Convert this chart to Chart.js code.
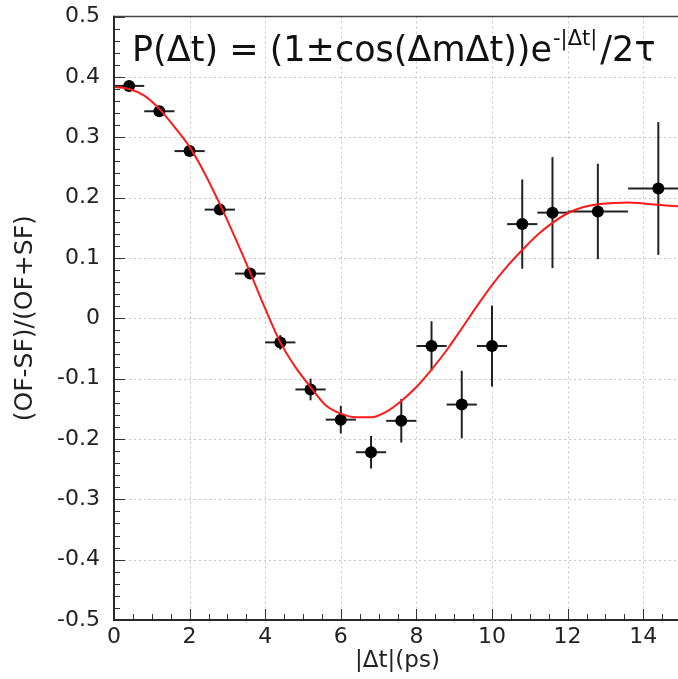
<!DOCTYPE html>
<html>
<head>
<meta charset="utf-8">
<script src="https://cdn.jsdelivr.net/npm/chart.js@4/dist/chart.umd.min.js"></script>
<style>
  html, body { margin: 0; padding: 0; background: #ffffff; overflow: hidden; }
  #wrap { position: relative; width: 700px; height: 679px; }
</style>
</head>
<body>
<div id="wrap"><canvas id="c" width="700" height="679"></canvas></div>
<script>
// ---- data ----
const binCenters    = [0.4, 1.2, 2.0, 2.8, 3.6, 4.4, 5.2, 6.0, 6.8, 7.6, 8.4, 9.2, 10.0, 10.8, 11.6, 12.8, 14.4];
const binHalfWidths = [0.4, 0.4, 0.4, 0.4, 0.4, 0.4, 0.4, 0.4, 0.4, 0.4, 0.4, 0.4, 0.4, 0.4, 0.4, 0.8, 0.8];
const asymmetry     = [0.385, 0.343, 0.277, 0.180, 0.074, -0.040, -0.118, -0.168, -0.222, -0.170, -0.046, -0.143, -0.046, 0.156, 0.175, 0.177, 0.215];
const asymErrors    = [0.004, 0.005, 0.006, 0.007, 0.009, 0.012, 0.018, 0.023, 0.027, 0.036, 0.041, 0.056, 0.067, 0.074, 0.092, 0.079, 0.110];

const fitT = [0, 0.4, 0.8, 1.2, 1.6, 2.0, 2.4, 2.8, 3.2, 3.6, 4.0, 4.4, 4.8, 5.2, 5.6, 6.0, 6.4, 6.8, 7.2, 7.6,
              8.0, 8.4, 8.8, 9.2, 9.6, 10.0, 10.4, 10.8, 11.2, 11.6, 12.0, 12.4, 12.8, 13.2, 13.6, 14.0, 14.4, 14.8, 15.0];
const fitV = [0.383, 0.380, 0.369, 0.347, 0.317, 0.284, 0.240, 0.189, 0.134, 0.076, 0.016, -0.040, -0.081, -0.114, -0.144, -0.158, -0.164, -0.164, -0.155, -0.137,
              -0.114, -0.085, -0.053, -0.017, 0.020, 0.055, 0.086, 0.113, 0.138, 0.158, 0.174, 0.184, 0.189, 0.191, 0.192, 0.190, 0.188, 0.186, 0.185];

const xTickValues = [0, 2, 4, 6, 8, 10, 12, 14];
const xTickLabels = ['0', '2', '4', '6', '8', '10', '12', '14'];
const yTickValues = [-0.5, -0.4, -0.3, -0.2, -0.1, 0, 0.1, 0.2, 0.3, 0.4, 0.5];
const yTickLabels = ['-0.5', '-0.4', '-0.3', '-0.2', '-0.1', '0', '0.1', '0.2', '0.3', '0.4', '0.5'];

const xTitle = '|Δt|(ps)';
const yTitle = '(OF-SF)/(OF+SF)';
const formulaMain = 'P(Δt) = (1±cos(ΔmΔt))e';
const formulaSup = '-|Δt|';
const formulaTail = '/2τ';

const FONT = '"DejaVu Sans", "Liberation Sans", sans-serif';

function seg(ctx, x0, y0, x1, y1) {
  ctx.beginPath(); ctx.moveTo(x0, y0); ctx.lineTo(x1, y1); ctx.stroke();
}

const framePlugin = {
  id: 'framePlugin',
  beforeDatasetsDraw(chart) {
    const { ctx, chartArea: a, scales: { x, y } } = chart;
    ctx.save();
    // dotted grid
    ctx.strokeStyle = '#c6c6c6';
    ctx.lineWidth = 1;
    ctx.setLineDash([2, 3]);
    xTickValues.forEach(v => {
      if (v <= x.min) return;
      const px = Math.round(x.getPixelForValue(v)) + 0.5;
      seg(ctx, px, a.top, px, a.bottom);
    });
    yTickValues.forEach(v => {
      if (v <= y.min || v >= y.max) return;
      const py = Math.round(y.getPixelForValue(v)) + 0.5;
      seg(ctx, a.left, py, a.right, py);
    });
    ctx.setLineDash([]);
    // error bars
    ctx.strokeStyle = '#222';
    ctx.lineWidth = 2;
    binCenters.forEach((c, i) => {
      const px = x.getPixelForValue(c);
      const py = y.getPixelForValue(asymmetry[i]);
      seg(ctx, x.getPixelForValue(c - binHalfWidths[i]), py, x.getPixelForValue(c + binHalfWidths[i]), py);
      seg(ctx, px, y.getPixelForValue(asymmetry[i] - asymErrors[i]), px, y.getPixelForValue(asymmetry[i] + asymErrors[i]));
    });
    ctx.restore();
  },
  afterDatasetsDraw(chart) {
    const { ctx, chartArea: a, scales: { x, y } } = chart;
    ctx.save();
    // inward tick marks
    ctx.strokeStyle = '#333';
    ctx.lineWidth = 1;
    for (let k = 0; k <= 30; k++) {
      const v = k * 0.5;
      const px = Math.round(x.getPixelForValue(v)) + 0.5;
      const len = (k % 4 === 0) ? 11 : 6;
      seg(ctx, px, a.bottom, px, a.bottom - len);
    }
    for (let k = 0; k <= 50; k++) {
      const v = -0.5 + k * 0.02;
      const py = Math.round(y.getPixelForValue(v)) + 0.5;
      const len = (k % 5 === 0) ? 11 : 6;
      seg(ctx, a.left, py, a.left + len, py);
    }
    // frame
    ctx.strokeStyle = '#444';
    ctx.lineWidth = 1.5;
    seg(ctx, a.left, a.top, a.right, a.top);
    ctx.strokeStyle = '#2a2a2a';
    ctx.lineWidth = 2;
    seg(ctx, a.left, a.top - 0.75, a.left, a.bottom + 1);
    seg(ctx, a.left - 1, a.bottom, a.right, a.bottom);
    // formula
    ctx.fillStyle = '#111';
    ctx.textBaseline = 'alphabetic';
    ctx.textAlign = 'left';
    ctx.font = '35px ' + FONT;
    let tx = 132;
    ctx.fillText(formulaMain, tx, 61);
    tx += ctx.measureText(formulaMain).width + 1;
    ctx.font = '21px ' + FONT;
    ctx.fillText(formulaSup, tx, 45);
    tx += ctx.measureText(formulaSup).width + 3;
    ctx.font = '35px ' + FONT;
    ctx.fillText(formulaTail, tx, 61);
    ctx.restore();
  }
};

new Chart(document.getElementById('c'), {
  type: 'scatter',
  data: {
    datasets: [
      {
        type: 'line',
        label: 'fit',
        data: fitT.map((t, i) => ({ x: t, y: fitV[i] })),
        borderColor: '#ff1a1a',
        borderWidth: 2,
        pointRadius: 0,
        fill: false,
        cubicInterpolationMode: 'monotone',
        order: 0
      },
      {
        type: 'scatter',
        label: 'data',
        data: binCenters.map((c, i) => ({ x: c, y: asymmetry[i] })),
        pointRadius: 6,
        pointBackgroundColor: '#000',
        pointBorderColor: '#000',
        pointBorderWidth: 0,
        order: 1
      }
    ]
  },
  options: {
    responsive: false,
    animation: false,
    events: [],
    layout: { padding: { left: 0, top: 16.5, right: 19, bottom: 0 } },
    plugins: { legend: { display: false }, tooltip: { enabled: false }, title: { display: false } },
    scales: {
      x: {
        type: 'linear',
        min: 0,
        max: 15,
        afterBuildTicks: s => { s.ticks = xTickValues.map(v => ({ value: v })); },
        afterFit: s => { s.height = 59; s.paddingLeft = 0; s.paddingRight = 0; },
        grid: { display: false, drawTicks: false },
        border: { display: false },
        ticks: {
          autoSkip: false,
          maxRotation: 0,
          padding: 4,
          color: '#222',
          font: { family: FONT, size: 22 },
          callback: v => xTickLabels[xTickValues.indexOf(v)]
        },
        title: {
          display: true,
          text: xTitle,
          color: '#222',
          font: { family: FONT, size: 23 },
          padding: { top: 0, bottom: 4 }
        }
      },
      y: {
        type: 'linear',
        min: -0.5,
        max: 0.5,
        afterBuildTicks: s => { s.ticks = yTickValues.map(v => ({ value: v })); },
        afterFit: s => { s.width = 114; s.paddingTop = 0; s.paddingBottom = 0; },
        grid: { display: false, drawTicks: false },
        border: { display: false },
        ticks: {
          autoSkip: false,
          padding: 14,
          color: '#222',
          font: { family: FONT, size: 22 },
          callback: v => {
            const i = yTickValues.findIndex(t => Math.abs(t - v) < 1e-9);
            return yTickLabels[i];
          }
        },
        title: {
          display: true,
          text: yTitle,
          color: '#222',
          font: { family: FONT, size: 25 },
          padding: { top: 10, bottom: 0 }
        }
      }
    }
  },
  plugins: [framePlugin]
});
</script>
</body>
</html>
